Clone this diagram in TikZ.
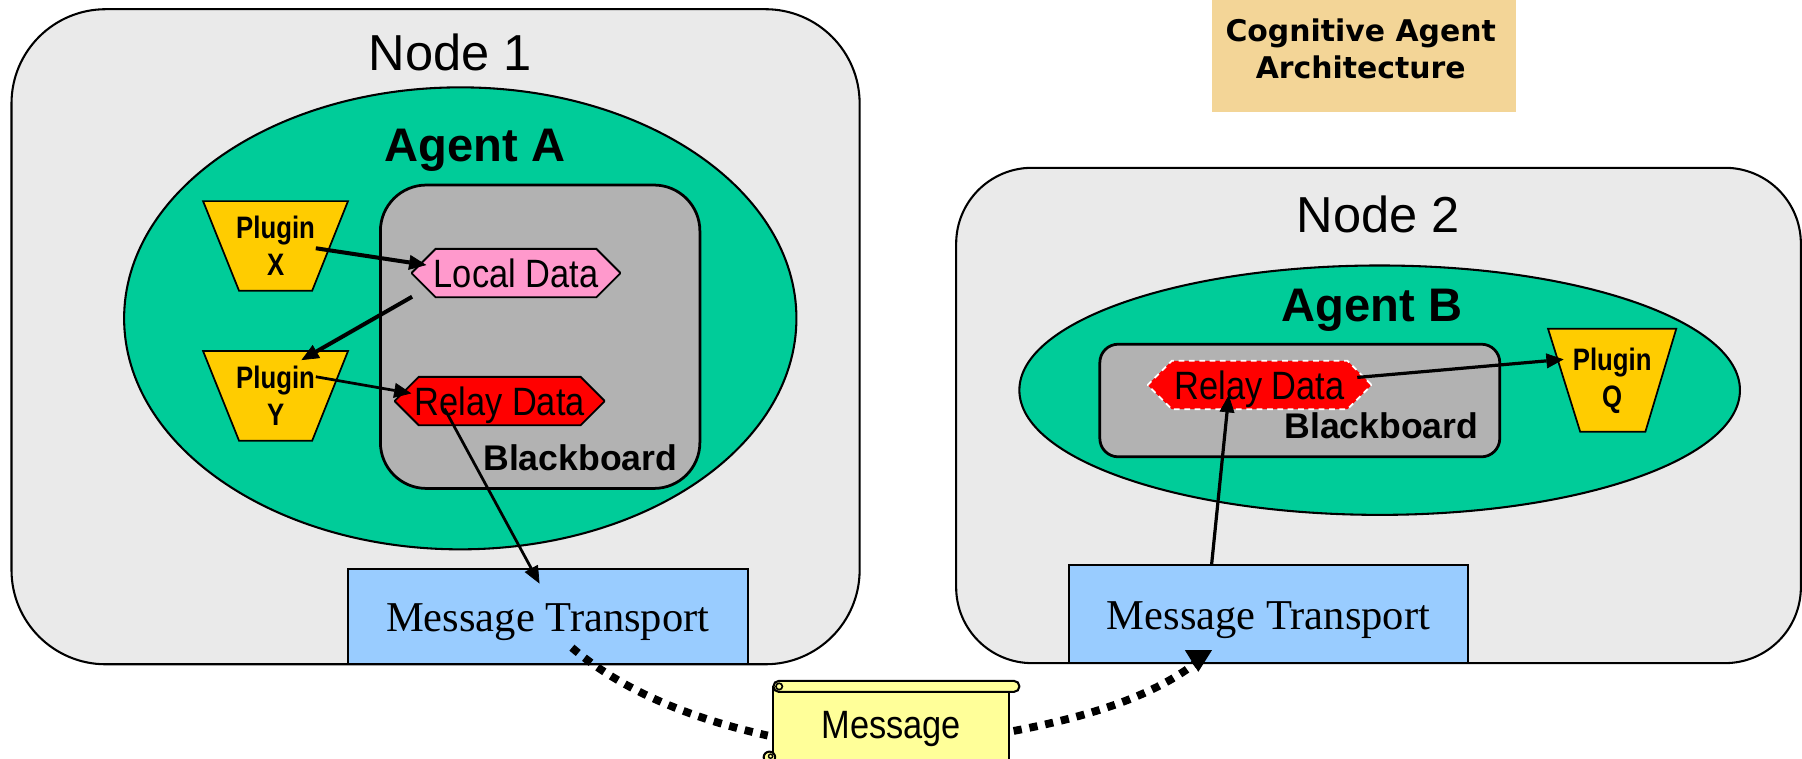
\documentclass[tikz,border=0pt]{standalone}
\usepackage{fontspec}
\setmainfont{Liberation Sans}
\newfontfamily\narrowsans[FakeStretch=0.87]{Liberation Sans}
\newfontfamily\condensedsans[FakeStretch=0.83]{Liberation Sans}
\newfontfamily\serifface{Liberation Serif}
\newfontfamily\titleface{DejaVu Sans}
\usetikzlibrary{shapes.geometric,shapes.misc,arrows.meta,calc}

\definecolor{nodegray}{RGB}{234,234,234}
\definecolor{agentgreen}{RGB}{0,204,153}
\definecolor{boardgray}{RGB}{178,178,178}
\definecolor{pluginyellow}{RGB}{255,204,0}
\definecolor{localpink}{RGB}{255,153,204}
\definecolor{relayred}{RGB}{255,0,0}
\definecolor{transportblue}{RGB}{153,204,255}
\definecolor{scrollyellow}{RGB}{255,255,153}
\definecolor{titletan}{RGB}{243,213,151}

\begin{document}
\begin{tikzpicture}[x=0.5pt,y=-0.5pt,
  hostbox/.style={draw=black, line width=0.9pt, fill=nodegray, inner sep=0pt},
  agentshape/.style={ellipse, draw=black, line width=0.9pt, fill=agentgreen, inner sep=0pt},
  boardbox/.style={draw=black, line width=1.2pt, fill=boardgray, inner sep=0pt},
  datashape/.style={chamfered rectangle, chamfered rectangle xsep=6pt, chamfered rectangle ysep=4.3pt,
    inner sep=0pt, text depth=0pt, font=\narrowsans\fontsize{17.2pt}{20pt}\selectfont},
  pluginshape/.style={draw=black, line width=0.75pt, fill=pluginyellow},
  plugintext/.style={align=center, inner sep=0pt, font=\condensedsans\bfseries\fontsize{13.5pt}{16.3pt}\selectfont},
  transport/.style={draw=black, line width=0.9pt, fill=transportblue, inner sep=0pt,
    text height=14pt, text depth=0.7pt, font=\serifface\fontsize{18.5pt}{22pt}\selectfont},
  hostlabel/.style={anchor=base, inner sep=0pt, font=\fontsize{22pt}{26pt}\selectfont},
  agentlabel/.style={anchor=base, inner sep=0pt, font=\bfseries\fontsize{20.5pt}{24pt}\selectfont},
  boardlabel/.style={anchor=base, inner sep=0pt, font=\bfseries\fontsize{15.5pt}{18pt}\selectfont},
  flow/.style={-{Triangle[length=7.5pt,width=6.5pt,line width=0.3pt]}, line width=1.75pt},
  thinflow/.style={flow, line width=1.2pt},
  wire/.style={line width=3.4pt, dash pattern=on 3.6pt off 3.4pt},
  scrollpaper/.style={draw=black, line width=0.9pt, fill=scrollyellow},
]
\useasboundingbox (0,0) rectangle (1568,660);
\clip (0,0) rectangle (1568,660);
\fill[white] (0,0) rectangle (1568,660);

% hosts
\node[hostbox, minimum width=369pt, minimum height=285pt, rounded corners=41pt] (node1) at (379,293) {};
\node[hostbox, minimum width=367.5pt, minimum height=215.5pt, rounded corners=33pt] (node2) at (1199.5,361.5) {};
\node[hostlabel] (node1label) at (392,61.5) {Node 1};
\node[hostlabel] (node2label) at (1199.5,202) {Node 2};

% agents
\node[agentshape, minimum width=292.5pt, minimum height=201pt] (agentA) at (400.5,277) {};
\node[agentshape, minimum width=313.5pt, minimum height=108.5pt] (agentB) at (1200.5,339.5) {};
\node[agentlabel] (agentAlabel) at (413.5,140.7) {Agent A};
\node[agentlabel] (agentBlabel) at (1194,280) {Agent B};

% blackboards
\node[boardbox, minimum width=139pt, minimum height=132pt, rounded corners=20pt] (boardA) at (470,293) {};
\node[boardbox, minimum width=174pt, minimum height=49pt, rounded corners=8pt] (boardB) at (1131,348.5) {};
\node[boardlabel] (boardAlabel) at (505,409) {Blackboard};
\node[boardlabel] (boardBlabel) at (1202,381.5) {Blackboard};

% data items on the blackboards
\node[datashape, draw=black, line width=0.8pt, fill=localpink, minimum width=90.5pt, minimum height=21pt] (local) at (449,237.6) {Local Data};
\node[datashape, draw=black, line width=0.8pt, fill=relayred, minimum width=91pt, minimum height=21pt] (relayA) at (434.8,349) {Relay Data};
\node[datashape, draw=white, dash pattern=on 2.5pt off 2pt, line width=0.8pt, fill=relayred, minimum width=97pt, minimum height=21pt] (relayB) at (1096,335) {Relay Data};

% plugins
\draw[pluginshape] (176.7,175) -- (302.8,175) -- (271.6,253) -- (208,253) -- cycle;
\draw[pluginshape] (176.7,305.5) -- (302.8,305.5) -- (271.6,383.5) -- (208,383.5) -- cycle;
\draw[pluginshape] (1347,286) -- (1458.6,286) -- (1431.7,375.7) -- (1375,375.7) -- cycle;
\node[plugintext] (plugX) at (239.8,214) {Plugin\\X};
\node[plugintext] (plugY) at (239.8,344.5) {Plugin\\Y};
\node[plugintext] (plugQ) at (1402.8,331.5) {Plugin\\Q};

% message transports
\node[transport, minimum width=174pt, minimum height=41.35pt] (mtA) at (476.65,536.55) {Message Transport};
\node[transport, minimum width=173.3pt, minimum height=42.4pt] (mtB) at (1103.7,534.4) {Message Transport};

% data flow inside the agents
\draw[flow] ($(plugX.center)+(35,2)$) -- ($(local.center)+(-78,-7)$);
\draw[flow] ($(local.center)+(-90.4,20.6)$) -- ($(plugY.center)+(22.5,-31.2)$);
\draw[thinflow] ($(plugY.center)+(35,-16.7)$) -- ($(relayA.center)+(-76.8,-6.7)$);
\draw[thinflow] ($(relayA.center)+(-48.1,6.4)$) -- ($(mtA.center)+(-7.2,-28.8)$);
\draw[flow, line width=1.4pt] ($(relayB.center)+(85,-6.6)$) -- ($(plugQ.center)+(-42.2,-18.8)$);
\draw[flow, line width=1.4pt] ($(mtB.center)+(-49.5,-42.5)$) -- ($(relayB.center)+(-26.8,8.8)$);

% message between the nodes
\coordinate (msgc) at (775.5,630.5);
\draw[wire] ($(mtA.center)+(21,27)$) .. controls +(42.4,36.5) and +(-68,-15) .. ($(msgc)+(-107.5,9.5)$);
\draw[wire] ($(msgc)+(106.5,5.5)$) .. controls +(58,-11) and +(-39.7,30.6) .. ($(mtB.center)+(-64,43)$);
\fill ($(mtB.center)+(-72.7,31.3)$) -- ($(mtB.center)+(-49.1,31.3)$) -- ($(mtB.center)+(-61,50.2)$) -- cycle;

% scroll
\draw[scrollpaper] (673,598) rectangle (878,720);
\draw[scrollpaper, rounded corners=2.3pt] (673,592.5) rectangle (887,602);
\draw[line width=0.7pt] (678,597.3) circle (1.4pt);
\draw[scrollpaper] (669.5,659) circle (2.5pt);
\draw[line width=0.6pt] (670.5,658) circle (0.9pt);
\node[inner sep=0pt, text depth=0pt, font=\narrowsans\fontsize{17.2pt}{20pt}\selectfont] (msg) at (msgc) {Message};

% title
\node[fill=titletan, inner sep=0pt, minimum width=132.5pt, minimum height=48.9pt] (titlebox) at (1187,48.9) {};
\node[inner sep=0pt, align=center, font=\titleface\bfseries\fontsize{13pt}{16.25pt}\selectfont] (titletext) at (1184,42.7) {Cognitive Agent\\Architecture};
\end{tikzpicture}
\end{document}
